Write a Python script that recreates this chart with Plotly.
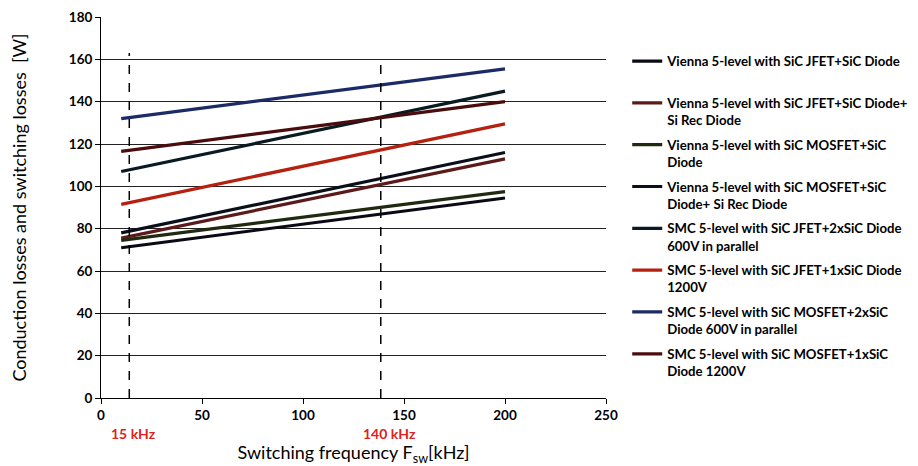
import plotly.graph_objects as go

freq = [10, 200]
names = [
    "Vienna 5-level with SiC JFET+SiC Diode<br> ",
    "Vienna 5-level with SiC JFET+SiC Diode+<br>Si Rec Diode",
    "Vienna 5-level with SiC MOSFET+SiC<br>Diode",
    "Vienna 5-level with SiC MOSFET+SiC<br>Diode+ Si Rec Diode",
    "SMC 5-level with SiC JFET+2xSiC Diode<br>600V in parallel",
    "SMC 5-level with SiC JFET+1xSiC Diode<br>1200V",
    "SMC 5-level with SiC MOSFET+2xSiC<br>Diode 600V in parallel",
    "SMC 5-level with SiC MOSFET+1xSiC<br>Diode 1200V",
]
values = [
    [71, 94.5],
    [75.5, 113],
    [74.5, 97.5],
    [78, 116],
    [107, 145],
    [91.5, 129.5],
    [132, 155.5],
    [116.5, 140],
]
colors = ["#0a0a14", "#5c1a1a", "#1f2a10", "#0b0f1a", "#0a1a22", "#b5200f", "#1c2a66", "#4a0c0c"]

marker_x = [14, 138.5]
marker_top = [163, 160]
marker_labels = ["15 kHz", "140 kHz"]
marker_label_x = [16, 143]

fig = go.Figure()
for i, (n, v, c) in enumerate(zip(names, values, colors)):
    fig.add_trace(go.Scatter(x=freq, y=v, mode="lines", name=n,
                             line=dict(color=c, width=3.2), legendgroup=str(i)))

for mx, mt in zip(marker_x, marker_top):
    fig.add_trace(go.Scatter(x=[mx, mx], y=[0, mt], mode="lines", showlegend=False,
                             line=dict(color="black", width=1.5, dash="dash")))

for lx, lt in zip(marker_label_x, marker_labels):
    fig.add_annotation(x=lx, y=-0.092, xref="x", yref="paper", text=lt, showarrow=False,
                       font=dict(color="#e0201c", size=14, family="Lato", weight="bold"),
                       yanchor="middle")

tickfont = dict(family="Lato", size=13.5, color="black", weight="bold")
fig.update_layout(
    width=910, height=458,
    margin=dict(l=93, r=312, t=9, b=68, autoexpand=False),
    plot_bgcolor="white", paper_bgcolor="white",
    font=dict(family="Lato", color="black"),
    showlegend=True,
    legend=dict(x=1.042, y=0.924, xanchor="left", yanchor="top",
                font=dict(family="Lato", size=13.2, color="black", weight="bold"),
                valign="top", tracegroupgap=4.5, itemwidth=30),
    xaxis=dict(range=[0, 250], tickvals=[0, 50, 100, 150, 200, 250], showgrid=False,
               showline=True, linecolor="black", linewidth=1, ticks="outside", ticklen=5,
               tickcolor="black", tickfont=tickfont, zeroline=False, automargin=False,
               title=dict(text="Switching frequency F<sub>sw</sub>[kHz]",
                          font=dict(family="Lato", size=18, color="black"), standoff=25)),
    yaxis=dict(range=[0, 180], tickvals=list(range(0, 181, 20)), showgrid=True,
               gridcolor="#222222", gridwidth=1, showline=True, linecolor="black",
               linewidth=1, ticks="outside", ticklen=5, tickcolor="black",
               tickfont=tickfont, zeroline=False, automargin=False,
               title=dict(text="Conduction losses and switching losses  [W]",
                          font=dict(family="Lato", size=18, color="black"), standoff=39)),
)

fig.write_html("out.html")
